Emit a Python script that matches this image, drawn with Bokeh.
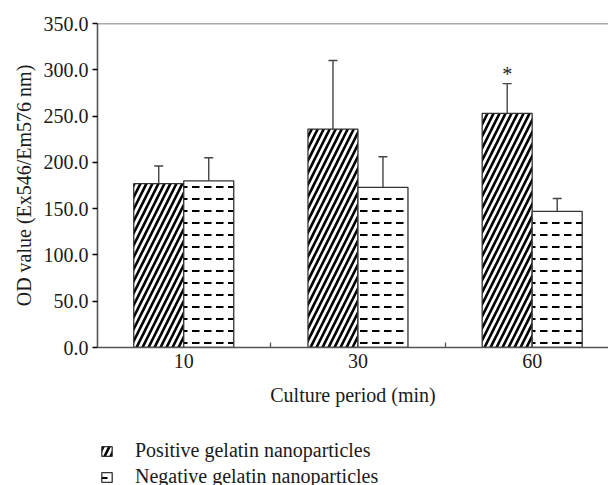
from bokeh.plotting import figure
from bokeh.layouts import column
from bokeh.models import (ColumnDataSource, FixedTicker, Whisker, TeeHead, Span,
                          Legend, LegendItem, PrintfTickFormatter)
from bokeh.embed import file_html
from bokeh.resources import INLINE
from bokeh.core.properties import value

# ---- data ----
categories = ["10", "30", "60"]
positive = [177, 236, 253]
positive_err = [19, 74, 32]
negative = [180, 173, 147]
negative_err = [25, 33, 14]
y_ticks = [0, 50, 100, 150, 200, 250, 300, 350]
significance = ["", "", "*"]
series_labels = ["Positive gelatin nanoparticles", "Negative gelatin nanoparticles"]

FONT = "Liberation Serif"
AXIS_COLOR = "#555555"
TEXT_COLOR = "#1a1a1a"

xc = list(range(1, len(categories) + 1))
bw = 0.287
pos_x = [x - bw / 2 for x in xc]
neg_x = [x + bw / 2 for x in xc]

src_pos = ColumnDataSource(dict(
    x=pos_x, top=positive,
    lower=[v - e for v, e in zip(positive, positive_err)],
    upper=[v + e for v, e in zip(positive, positive_err)],
    sig=significance))
src_neg = ColumnDataSource(dict(
    x=neg_x, top=negative,
    lower=[v - e for v, e in zip(negative, negative_err)],
    upper=[v + e for v, e in zip(negative, negative_err)]))

POS_STYLE = dict(fill_color="white", line_color="#333333", line_width=1.3,
                 hatch_pattern="right_diagonal_line", hatch_color="black",
                 hatch_scale=12, hatch_weight=2.6)
NEG_STYLE = dict(fill_color="white", line_color="#333333", line_width=1.3,
                 hatch_pattern="horizontal_dash", hatch_color="black",
                 hatch_scale=12, hatch_weight=2)

p = figure(width=608, height=417, output_backend="svg", toolbar_location=None,
           x_range=(0.505, 3.438), y_range=(0, 350),
           min_border_left=97, min_border_right=0, min_border_top=23,
           min_border_bottom=70)
p.outline_line_color = None
p.grid.grid_line_color = None

r_pos = p.vbar(x="x", top="top", width=bw, source=src_pos, **POS_STYLE)
r_neg = p.vbar(x="x", top="top", width=bw, source=src_neg, **NEG_STYLE)

for src in (src_pos, src_neg):
    w = Whisker(base="x", lower="lower", upper="upper", source=src,
                line_color="#444444", line_width=1.4,
                upper_head=TeeHead(size=9, line_color="#444444", line_width=1.4),
                lower_head=TeeHead(size=9, line_color="#444444", line_width=1.4))
    p.add_layout(w)

p.text(x="x", y="upper", text="sig", source=src_pos, text_font=value(FONT),
       text_font_size="20px", text_align="center", text_baseline="bottom",
       text_color=TEXT_COLOR, y_offset=1)

p.add_layout(Span(location=350, dimension="width", line_color=AXIS_COLOR,
                  line_width=1.6))

xa = p.xaxis[0]
xa.ticker = FixedTicker(ticks=xc, minor_ticks=[1.5, 2.5])
xa.major_label_overrides = {x: c for x, c in zip(xc, categories)}
xa.major_tick_line_color = None
xa.minor_tick_in = 5
xa.minor_tick_out = 0
xa.minor_tick_line_color = AXIS_COLOR
xa.minor_tick_line_width = 1.3
xa.axis_label = "Culture period (min)"
xa.axis_label_standoff = 13
xa.major_label_standoff = 0

ya = p.yaxis[0]
ya.ticker = FixedTicker(ticks=y_ticks)
ya.formatter = PrintfTickFormatter(format="%.1f")
ya.major_tick_in = 0
ya.major_tick_out = 5
ya.minor_tick_line_color = None
ya.axis_label = "OD value (Ex546/Em576 nm)"
ya.axis_label_standoff = 6
ya.major_label_standoff = 4

for ax in (xa, ya):
    ax.axis_line_color = AXIS_COLOR
    ax.axis_line_width = 1.6
    ax.major_tick_line_width = 1.3
    ax.major_label_text_font = FONT
    ax.major_label_text_font_size = "20px"
    ax.major_label_text_color = TEXT_COLOR
    ax.axis_label_text_font = FONT
    ax.axis_label_text_font_size = "20px"
    ax.axis_label_text_font_style = "normal"
    ax.axis_label_text_color = TEXT_COLOR

# ---- legend strip below the chart (its frame is aligned with the chart's) ----
lg = figure(width=608, height=68, output_backend="svg", toolbar_location=None,
            x_range=(0, 1), y_range=(0, 1), min_border=0,
            x_axis_location=None, y_axis_location=None)
lg.grid.grid_line_color = None
lg.outline_line_color = None
# legend-key renderers: hidden, so that only their legend keys are drawn
key_data = dict(x=[0.5], top=[0.5])
l_pos = lg.vbar(x="x", top="top", width=0.1,
                source=ColumnDataSource(key_data), **POS_STYLE)
l_neg = lg.vbar(x="x", top="top", width=0.1,
                source=ColumnDataSource(key_data), **NEG_STYLE)
l_pos.visible = False
l_neg.visible = False

legend = Legend(items=[LegendItem(label=series_labels[0], renderers=[l_pos]),
                       LegendItem(label=series_labels[1], renderers=[l_neg])],
                location=(3, -3), orientation="vertical",
                border_line_color=None, background_fill_alpha=0,
                inactive_fill_alpha=0,
                label_text_font=FONT, label_text_font_size="20px",
                label_text_color=TEXT_COLOR,
                glyph_width=13, glyph_height=12, label_standoff=22,
                spacing=3, padding=0, margin=0, label_height=22)
lg.add_layout(legend)

open("out.html", "w").write(file_html(column(p, lg, spacing=0), INLINE))
